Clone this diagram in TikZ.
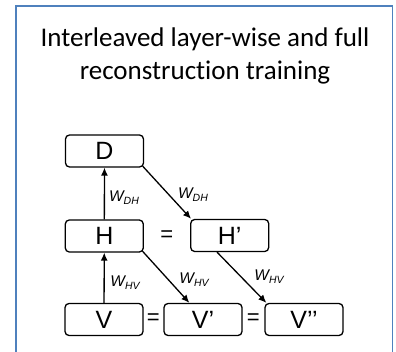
\documentclass[tikz,border=0pt]{standalone}
\usepackage{fontspec}
\setmainfont{Carlito}[Ligatures=NoCommon]
\newfontfamily\arialf{Liberation Sans}
\usetikzlibrary{arrows.meta}
\definecolor{frameblue}{RGB}{79,129,189}

\begin{document}
\begin{tikzpicture}[x=1pt,y=-1pt,>={Latex[length=8pt,width=7pt]},line width=1.3pt,
  layer node/.style={draw,rounded corners=4pt,minimum width=78pt,minimum height=32pt,
    inner sep=0pt,font=\arialf\fontsize{25}{27}\selectfont},
  weight node/.style={inner sep=0pt,font=\arialf\itshape\fontsize{15.5}{17}\selectfont},
  eq node/.style={inner sep=0pt,font=\arialf\fontsize{22}{24}\selectfont}]
  \useasboundingbox (0,0) rectangle (396,352);
  \draw[frameblue,line width=1.6pt] (16,354) -- (16,6) -- (392.5,6) -- (392.5,354);
  \node[align=center,anchor=base,inner sep=0pt,font=\fontsize{27}{33.3}\selectfont] (title) at (205,80)
    {Interleaved layer-wise and full\\reconstruction training};

  % layers
  \node[layer node] (d) at (104.5,151) {D};
  \node[layer node] (h) at (104.3,236) {H};
  \node[layer node] (hp) at (229.7,235.5) {H’};
  \node[layer node] (v) at (104,319.5) {V};
  \node[layer node] (vp) at (203,319.5) {V’};
  \node[layer node] (vpp) at (304,319.5) {V’’};
  \node[eq node] (eq1) at (166.7,236) {=};
  \node[eq node] (eq2) at (153.3,319.5) {=};
  \node[eq node] (eq3) at (253.3,319.5) {=};

  \path[->]
    (v) edge (h)
    (h) edge (d)
    ([shift={(-1.5,-1.5)}]d.south east) edge ([xshift=1pt]hp.north west)
    ([shift={(-1.5,-1.5)}]h.south east) edge ([xshift=26pt]vp.north west)
    ([xshift=27pt]hp.south west) edge ([xshift=2pt]vpp.north west);

  % weights
  \node[weight node] (wdh1) at (124,198) {W\raisebox{-3pt}{\fontsize{10.5}{12}\selectfont DH}};
  \node[weight node] (wdh2) at (193,195) {W\raisebox{-3pt}{\fontsize{10.5}{12}\selectfont DH}};
  \node[weight node] (whv1) at (125,283) {W\raisebox{-3pt}{\fontsize{10.5}{12}\selectfont HV}};
  \node[weight node] (whv2) at (194,280) {W\raisebox{-3pt}{\fontsize{10.5}{12}\selectfont HV}};
  \node[weight node] (whv3) at (269,277) {W\raisebox{-3pt}{\fontsize{10.5}{12}\selectfont HV}};
\end{tikzpicture}
\end{document}
